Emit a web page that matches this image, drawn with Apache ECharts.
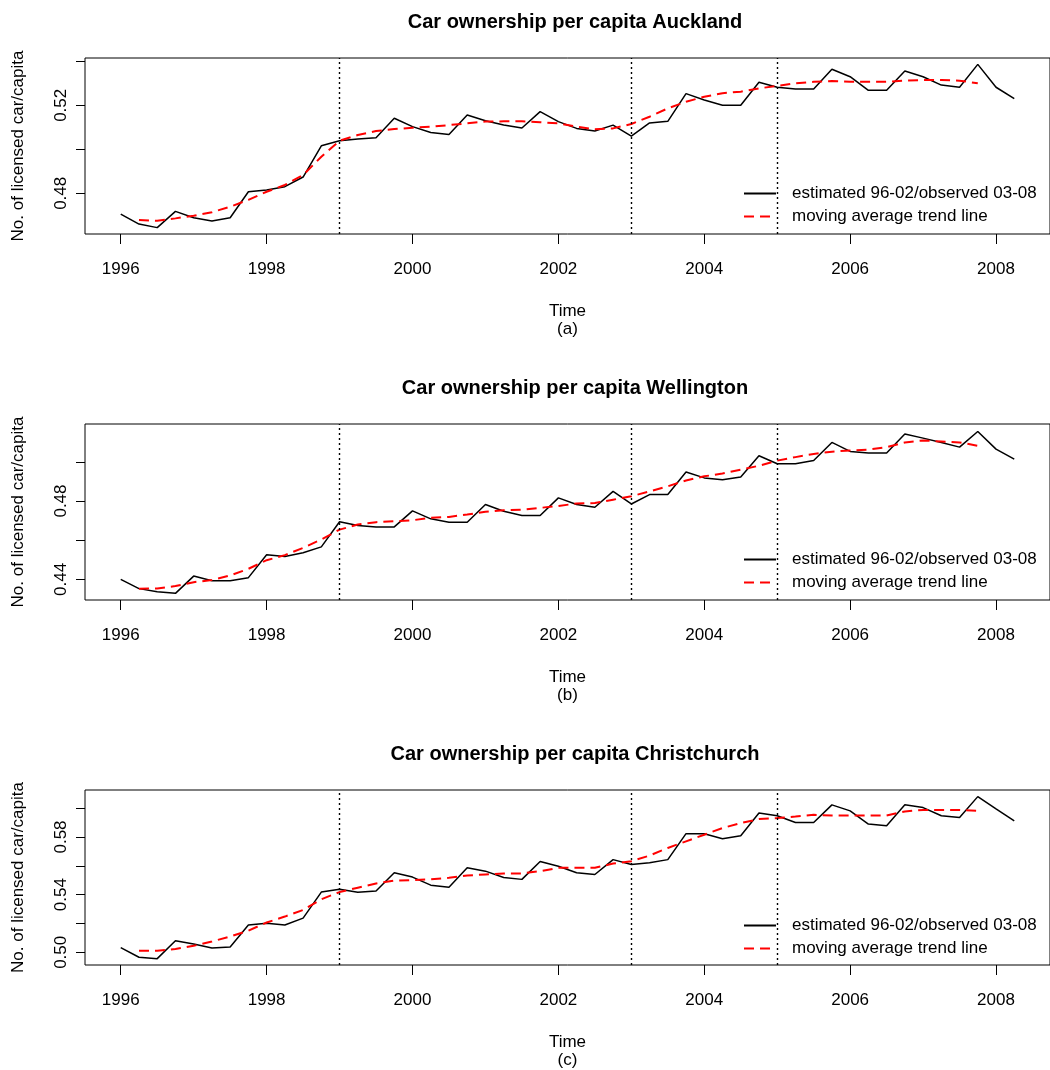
<!DOCTYPE html>
<html>
<head>
<meta charset="utf-8">
<title>Car ownership per capita</title>
<script src="https://cdn.jsdelivr.net/npm/echarts@6/dist/echarts.min.js"></script>
<style>
    html, body { margin: 0; padding: 0; background: #fff; }
    #chart { width: 1050px; height: 1070px; }
</style>
</head>
<body>
<div id="chart"></div>
<script>
// quarterly time points 1996 Q1 .. 2008 Q2
const quarters = [
    1996.00, 1996.25, 1996.50, 1996.75, 1997.00, 1997.25, 1997.50, 1997.75,
    1998.00, 1998.25, 1998.50, 1998.75, 1999.00, 1999.25, 1999.50, 1999.75,
    2000.00, 2000.25, 2000.50, 2000.75, 2001.00, 2001.25, 2001.50, 2001.75,
    2002.00, 2002.25, 2002.50, 2002.75, 2003.00, 2003.25, 2003.50, 2003.75,
    2004.00, 2004.25, 2004.50, 2004.75, 2005.00, 2005.25, 2005.50, 2005.75,
    2006.00, 2006.25, 2006.50, 2006.75, 2007.00, 2007.25, 2007.50, 2007.75,
    2008.00, 2008.25
];
// the trend line runs from 1996.25 to 2007.75
const trendQuarters = quarters.slice(1, 48);

const yearTicks = [1996, 1998, 2000, 2002, 2004, 2006, 2008];
const breakYears = [1999, 2003, 2005];

const seriesNames = ["estimated 96-02/observed 03-08", "moving average trend line"];
const cities = ["Auckland", "Wellington", "Christchurch"];
const panelTags = ["(a)", "(b)", "(c)"];

// Auckland
const aucklandObs = [
    0.4705, 0.4660, 0.4644, 0.4718, 0.4689, 0.4674, 0.4689, 0.4807,
    0.4815, 0.4830, 0.4874, 0.5016, 0.5039, 0.5047, 0.5053, 0.5141,
    0.5103, 0.5076, 0.5067, 0.5156, 0.5130, 0.5110, 0.5097, 0.5171,
    0.5126, 0.5095, 0.5083, 0.5110, 0.5060, 0.5120, 0.5127, 0.5253,
    0.5224, 0.5200, 0.5200, 0.5305, 0.5282, 0.5274, 0.5274, 0.5364,
    0.5330, 0.5268, 0.5268, 0.5356, 0.5330, 0.5292, 0.5282, 0.5386,
    0.5282, 0.5230
];
const aucklandTrend = [
    0.4679, 0.4675, 0.4686,
    0.4698, 0.4714, 0.4739, 0.4770, 0.4807, 0.4838, 0.4883, 0.4966,
    0.5039, 0.5065, 0.5083, 0.5092, 0.5098, 0.5103, 0.5110, 0.5118,
    0.5126, 0.5127, 0.5127, 0.5123, 0.5118, 0.5103, 0.5091, 0.5095,
    0.5115, 0.5148, 0.5186, 0.5216, 0.5239, 0.5255, 0.5262, 0.5277,
    0.5288, 0.5300, 0.5307, 0.5310, 0.5307, 0.5307, 0.5307, 0.5312,
    0.5315, 0.5315, 0.5312, 0.5300
];

// Wellington
const wellingtonObs = [
    0.4400, 0.4353, 0.4337, 0.4329, 0.4417, 0.4393, 0.4393, 0.4409,
    0.4526, 0.4517, 0.4536, 0.4566, 0.4694, 0.4675, 0.4668, 0.4668,
    0.4750, 0.4709, 0.4692, 0.4692, 0.4782, 0.4748, 0.4726, 0.4726,
    0.4816, 0.4782, 0.4768, 0.4849, 0.4785, 0.4833, 0.4833, 0.4948,
    0.4918, 0.4909, 0.4923, 0.5031, 0.4990, 0.4990, 0.5007, 0.5099,
    0.5053, 0.5045, 0.5045, 0.5142, 0.5121, 0.5099, 0.5075, 0.5155,
    0.5065, 0.5014
];
const wellingtonTrend = [
    0.4353, 0.4354, 0.4366,
    0.4386, 0.4397, 0.4420, 0.4454, 0.4498, 0.4524, 0.4561, 0.4604,
    0.4654, 0.4680, 0.4692, 0.4697, 0.4702, 0.4714, 0.4719, 0.4731,
    0.4745, 0.4753, 0.4756, 0.4765, 0.4775, 0.4787, 0.4790, 0.4807,
    0.4824, 0.4849, 0.4875, 0.4905, 0.4926, 0.4940, 0.4960, 0.4980,
    0.5006, 0.5024, 0.5040, 0.5052, 0.5058, 0.5062, 0.5075, 0.5099,
    0.5109, 0.5104, 0.5099, 0.5082
];

// Christchurch
const christchurchObs = [
    0.5032, 0.4966, 0.4956, 0.5080, 0.5057, 0.5030, 0.5037, 0.5190,
    0.5202, 0.5190, 0.5237, 0.5418, 0.5437, 0.5416, 0.5425, 0.5552,
    0.5522, 0.5466, 0.5452, 0.5586, 0.5563, 0.5519, 0.5506, 0.5630,
    0.5597, 0.5552, 0.5540, 0.5643, 0.5609, 0.5621, 0.5643, 0.5823,
    0.5823, 0.5788, 0.5809, 0.5966, 0.5947, 0.5901, 0.5901, 0.6023,
    0.5981, 0.5890, 0.5878, 0.6023, 0.6004, 0.5947, 0.5935, 0.6080,
    0.5995, 0.5912
];
const christchurchTrend = [
    0.5011, 0.5011, 0.5023,
    0.5045, 0.5075, 0.5110, 0.5150, 0.5207, 0.5248, 0.5294, 0.5368,
    0.5418, 0.5448, 0.5478, 0.5497, 0.5501, 0.5506, 0.5517, 0.5533,
    0.5540, 0.5547, 0.5547, 0.5563, 0.5586, 0.5586, 0.5586, 0.5616,
    0.5632, 0.5671, 0.5724, 0.5770, 0.5816, 0.5862, 0.5897, 0.5924,
    0.5931, 0.5942, 0.5954, 0.5949, 0.5949, 0.5949, 0.5949, 0.5977,
    0.5988, 0.5988, 0.5988, 0.5981
];

// y axis ticks and the labels R kept
const aucklandTicks = [0.48, 0.50, 0.52, 0.54];
const aucklandLabels = [0.48, 0.52];
const wellingtonTicks = [0.44, 0.46, 0.48, 0.50];
const wellingtonLabels = [0.44, 0.48];
const christchurchTicks = [0.50, 0.52, 0.54, 0.56, 0.58, 0.60];
const christchurchLabels = [0.50, 0.54, 0.58];

const obsData = [aucklandObs, wellingtonObs, christchurchObs];
const trendData = [aucklandTrend, wellingtonTrend, christchurchTrend];
const yTicks = [aucklandTicks, wellingtonTicks, christchurchTicks];
const yLabels = [aucklandLabels, wellingtonLabels, christchurchLabels];
// plot range (data range + 4%, like R)
const yRanges = [[0.4615, 0.5415], [0.4295, 0.5193], [0.4912, 0.6126]];

const FONT = "Liberation Sans";
const panelTop = [58, 424, 790];
const panelHeight = 176;
const plotLeft = 85;
const plotWidth = 970;

const chart = echarts.init(document.getElementById("chart"));

const grid = [];
const xAxis = [];
const yAxis = [];
const series = [];
const title = [];
const legend = [];

cities.forEach((city, i) => {
    grid.push({
        left: plotLeft,
        top: panelTop[i],
        width: plotWidth,
        height: panelHeight,
        show: true,
        borderColor: "#000",
        borderWidth: 1,
        backgroundColor: "transparent",
    });

    title.push({
        text: "Car ownership per capita " + city,
        left: plotLeft + plotWidth / 2,
        textAlign: "center",
        top: panelTop[i] - 51,
        textStyle: { fontFamily: FONT, fontSize: 20, fontWeight: "bold", color: "#000" },
    });

    xAxis.push({
        type: "value",
        gridIndex: i,
        min: 1995.51,
        max: 2008.74,
        axisLine: { show: false },
        splitLine: { show: false },
        axisTick: { show: true, length: 10, customValues: yearTicks, lineStyle: { color: "#000" } },
        axisLabel: {
            customValues: yearTicks,
            margin: 27,
            fontFamily: FONT,
            fontSize: 17,
            color: "#000",
            formatter: (v) => String(v),
        },
        name: "Time\n" + panelTags[i],
        nameLocation: "middle",
        nameGap: 68,
        nameTextStyle: { fontFamily: FONT, fontSize: 17, lineHeight: 18, color: "#000" },
    });

    yAxis.push({
        type: "value",
        gridIndex: i,
        min: yRanges[i][0],
        max: yRanges[i][1],
        axisLine: { show: false },
        splitLine: { show: false },
        axisTick: { show: true, length: 9, customValues: yTicks[i], lineStyle: { color: "#000" } },
        axisLabel: {
            customValues: yLabels[i],
            rotate: 90,
            margin: 15,
            fontFamily: FONT,
            fontSize: 17,
            color: "#000",
            formatter: (v) => v.toFixed(2),
        },
        name: "No. of licensed car/capita",
        nameLocation: "middle",
        nameGap: 58,
        nameTextStyle: { fontFamily: FONT, fontSize: 17, color: "#000" },
    });

    // estimated / observed series, with the dotted break lines
    series.push({
        name: seriesNames[0],
        type: "line",
        xAxisIndex: i,
        yAxisIndex: i,
        symbol: "none",
        data: quarters.map((t, k) => [t, obsData[i][k]]),
        lineStyle: { color: "#000", width: 1.5 },
        itemStyle: { color: "#000" },
        markLine: {
            silent: true,
            symbol: ["none", "none"],
            label: { show: false },
            lineStyle: { color: "#000", type: [2, 3], width: 1.4 },
            data: breakYears.map((y) => ({ xAxis: y })),
        },
    });

    // moving average trend
    series.push({
        name: seriesNames[1],
        type: "line",
        xAxisIndex: i,
        yAxisIndex: i,
        symbol: "none",
        data: trendQuarters.map((t, k) => [t, trendData[i][k]]),
        lineStyle: { color: "#ff0000", width: 2, type: [10, 6] },
        itemStyle: { color: "#ff0000" },
    });

    legend.push({
        data: seriesNames,
        orient: "vertical",
        left: 738,
        top: panelTop[i] + 122,
        itemWidth: 32,
        itemHeight: 14,
        itemGap: 6,
        selectedMode: false,
        // hide the symbol, keep only the line sample
        itemStyle: { color: "transparent", borderColor: "transparent", borderWidth: 0 },
        textStyle: { fontFamily: FONT, fontSize: 17, color: "#000", padding: [0, 0, 0, 11] },
    });
});

chart.setOption({
    animation: false,
    backgroundColor: "#fff",
    title,
    legend,
    grid,
    xAxis,
    yAxis,
    series,
});
</script>
</body>
</html>
